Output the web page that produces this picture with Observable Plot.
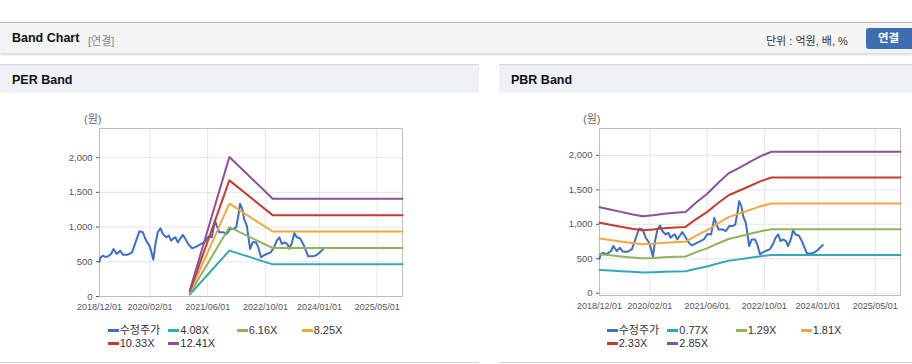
<!DOCTYPE html>
<html><head><meta charset="utf-8">
<script src="https://cdn.jsdelivr.net/npm/d3@7"></script>
<script src="https://cdn.jsdelivr.net/npm/@observablehq/plot@0.6"></script>
<style>
body{margin:0;width:912px;height:364px;overflow:hidden;background:#fff;font-family:Arial,"Liberation Sans","Noto Sans CJK KR",sans-serif;position:relative}
.abs{position:absolute}
#topbar{left:0;top:22px;width:912px;height:30px;background:#f4f4f4;border-top:1px solid #b8b8b8;box-shadow:0 2px 2px rgba(0,0,0,0.15)}
.ttl{font-weight:bold;font-size:12.5px;color:#111;white-space:nowrap}
.panel{top:64px;height:297px;border-top:1px solid #d6d6d6;border-bottom:1px solid #d6d6d6;background:#fff}
.phead{position:absolute;left:0;top:0;width:100%;height:28px;background:#eef2f7}
.unit{font-size:11px;color:#666;white-space:nowrap}
.leg{position:absolute;font-size:11px;color:#333;white-space:nowrap;line-height:13px}
.leg i{display:inline-block;width:11px;height:3px;vertical-align:middle;margin-right:1px;position:relative;top:-1px}
svg g[aria-label^="x-axis"] text{font-size:9px}
svg g[aria-label^="y-axis"] line{stroke:#c4c4c4}
</style>
</head><body>
<div id="topbar" class="abs"></div>
<div class="abs ttl" style="left:12px;top:31px">Band Chart</div>
<div class="abs" style="left:88px;top:32px;font-size:11px;color:#888">[연결]</div>
<div class="abs" style="left:766px;top:32px;font-size:11px;color:#333;white-space:nowrap">단위 : 억원, 배, %</div>
<div class="abs" style="left:866px;top:28px;width:52px;height:21px;background:#3d6db3;border-radius:3px;color:#fff;font-weight:bold;font-size:11.5px;line-height:21px;padding-left:12px;box-sizing:border-box">연결</div>

<div id="p1" class="abs panel" style="left:0;width:479px"><div class="phead"></div></div>
<div id="p2" class="abs panel" style="left:499px;width:413px"><div class="phead"></div></div>
<div class="abs ttl" style="left:12px;top:73px">PER Band</div>
<div class="abs ttl" style="left:511px;top:73px">PBR Band</div>
<div class="abs unit" style="left:84px;top:110px">(원)</div>
<div class="abs unit" style="left:583px;top:110px">(원)</div>
<div id="c1" class="abs" style="left:0;top:100px"></div>
<div id="c2" class="abs" style="left:499px;top:100px"></div>
<div id="l1"></div><div id="l2"></div>
<script>
// ---- data ----
const priceDates = ["2018-12-01","2018-12-10","2018-12-29","2019-01-20","2019-02-09","2019-03-09","2019-03-29","2019-04-26","2019-05-24","2019-06-16","2019-07-28","2019-09-02","2019-10-06","2019-11-03","2019-12-02","2019-12-29","2020-01-26","2020-02-09","2020-02-28","2020-03-17","2020-04-06","2020-04-28","2020-05-18","2020-06-15","2020-07-08","2020-07-27","2020-08-16","2020-09-01","2020-09-22","2020-10-11","2020-11-03","2020-11-25","2020-12-24","2021-01-21","2021-02-24","2021-04-07","2021-05-05","2021-06-05","2021-07-06","2021-08-02","2021-08-16","2021-09-07","2021-10-11","2021-11-09","2021-12-07","2022-01-03","2022-01-27","2022-02-15","2022-03-01","2022-03-20","2022-04-04","2022-04-27","2022-05-25","2022-06-16","2022-07-14","2022-08-02","2022-08-25","2022-09-13","2022-10-12","2022-11-15","2022-12-13","2023-01-05","2023-01-27","2023-02-16","2023-03-10","2023-04-04","2023-04-21","2023-05-14","2023-06-02","2023-06-22","2023-07-20","2023-08-16","2023-09-14","2023-09-27","2023-11-08","2023-12-07","2024-01-04","2024-02-10"];
const priceValues = [500,560,588,570,578,612,685,612,660,603,603,636,805,939,925,805,733,660,530,757,925,983,902,853,877,805,838,853,780,830,887,830,743,694,718,757,780,860,853,1094,1022,925,925,902,974,974,997,1166,1335,1263,1118,1022,685,780,780,708,564,588,612,636,708,805,853,757,780,757,685,780,916,853,838,757,636,578,578,598,636,700];

const perDates = ["2021-01-01","2021-12-01","2022-12-01","2025-12-01"];
const perLabels = ["4.08X","6.16X","8.25X","10.33X","12.41X"];
const per408 = [29,661,463,463];
const per616 = [43,998,699,699];
const per825 = [58,1337,936,936];
const per1033 = [72,1673,1172,1172];
const per1241 = [87,2010,1409,1409];

const pbrDates = ["2018-12-01","2019-03-01","2019-06-01","2019-09-01","2019-12-01","2020-03-01","2020-06-01","2020-09-01","2020-12-01","2021-03-01","2021-06-01","2021-09-01","2021-12-01","2022-03-01","2022-06-01","2022-09-01","2022-12-01","2025-12-01"];
const pbrLabels = ["0.77X","1.29X","1.81X","2.33X","2.85X"];
const pbr077 = [337,328,319,310,302,306,312,315,318,356,389,431,470,491,514,537,554,554];
const pbr129 = [565,550,534,519,506,512,522,528,533,596,651,722,787,823,862,900,929,929];
const pbr181 = [793,771,749,728,710,719,733,740,748,836,914,1014,1104,1155,1209,1263,1303,1303];
const pbr233 = [1021,993,965,937,913,925,944,953,962,1076,1177,1305,1421,1487,1556,1626,1678,1678];
const pbr285 = [1248,1214,1180,1146,1117,1131,1154,1166,1177,1317,1439,1596,1739,1818,1904,1989,2052,2052];

const xTickLabels = ["2018/12/01","2020/02/01","2021/06/01","2022/10/01","2024/01/01","2025/05/01"];
const yTicks = [0,500,1000,1500,2000];
const priceLabel = "수정주가";
const colors = ["#3d70c4","#33a8bd","#91b35b","#f2a93b","#c93a2e","#8d4f9c"];

// ---- build ----
const parse = d3.utcParse("%Y-%m-%d");
const parseTick = d3.utcParse("%Y/%m/%d");
const xTicks = xTickLabels.map(parseTick);
const toRows = (dates, vals) => dates.map((d, i) => ({date: parse(d), value: vals[i]}));

function chart(bands, yDomain, width, ml, mr, mb) {
  const series = [toRows(priceDates, priceValues), ...bands];
  return Plot.plot({
    width, height: 220,
    marginLeft: ml, marginRight: mr, marginTop: 28, marginBottom: mb,
    style: {fontSize: "9.5px", fontFamily: "Arial, 'Liberation Sans', sans-serif", color: "#555", background: "transparent", overflow: "visible"},
    x: {type: "utc", domain: [parse("2018-12-01"), parse("2025-12-01")], ticks: xTicks, tickFormat: d3.utcFormat("%Y/%m/%d"), tickSize: 0, tickPadding: 7, label: null},
    y: {domain: yDomain, ticks: yTicks, tickFormat: d3.format(","), tickSize: 3, tickPadding: 4, label: null},
    marks: [
      Plot.ruleY(yTicks, {stroke: "#e6e6e6"}),
      Plot.ruleX(xTicks, {stroke: "#e6e6e6"}),
      Plot.frame({stroke: "#bdbdbd"}),
      ...series.map((rows, i) => Plot.line(rows, {x: "date", y: "value", stroke: colors[i], strokeWidth: 2}))
    ]
  });
}

document.getElementById("c1").append(chart(
  [per408, per616, per825, per1033, per1241].map(v => toRows(perDates, v)),
  [0, 2420], 479, 99, 77, 24));
document.getElementById("c2").append(chart(
  [pbr077, pbr129, pbr181, pbr233, pbr285].map(v => toRows(pbrDates, v)),
  [-33, 2390], 413, 100, 12, 25));

function legend(labels, x0) {
  const names = [priceLabel, ...labels];
  const cols = [107.7, 168.3, 236.7, 301.7];
  const frag = document.createDocumentFragment();
  names.forEach((n, i) => {
    const row = Math.floor(i / 4), col = i % 4;
    const el = document.createElement("div");
    el.className = "leg";
    el.style.left = (x0 + cols[col]) + "px";
    el.style.top = (324 + row * 13) + "px";
    el.innerHTML = `<i style="background:${colors[i]}"></i>${n}`;
    frag.append(el);
  });
  document.body.append(frag);
}
legend(perLabels, 0);
legend(pbrLabels, 499);
</script>
</body></html>
